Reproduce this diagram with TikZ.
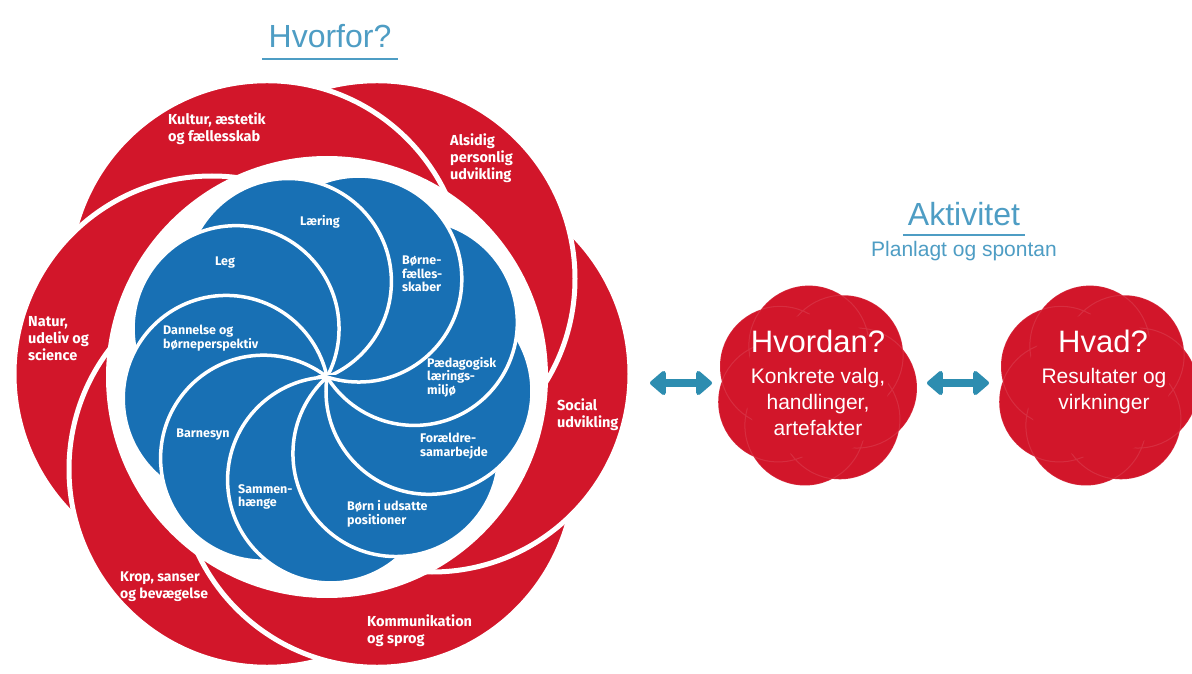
\documentclass[tikz,border=0pt]{standalone}
\usepackage{fontspec}
\setmainfont{Liberation Sans}
\newfontfamily\labfont{Fira Sans}
\usetikzlibrary{arrows.meta}
\definecolor{fred}{RGB}{210,22,42}
\definecolor{fblue}{RGB}{24,112,180}
\definecolor{ftext}{RGB}{78,157,196}
\definecolor{farrow}{RGB}{45,141,176}
\begin{document}
\begin{tikzpicture}[x=1pt,y=1pt,
 redpetal/.style={fill=fred, draw=white, line width=5pt},
 bluepetal/.style={fill=fblue, draw=white, line width=3.5pt},
 redlab/.style={text=white, font=\labfont\bfseries\fontsize{14.5}{17}\selectfont, align=left, anchor=west, inner sep=0pt},
 bluelab/.style={text=white, font=\labfont\bfseries\fontsize{12.5}{13.5}\selectfont, align=left, anchor=west, inner sep=0pt},
 head/.style={text=ftext, font=\fontsize{32}{38}\selectfont, anchor=base, inner sep=0pt},
 cloudtxt/.style={text=white, font=\fontsize{21}{26}\selectfont, align=center, inner sep=0pt},
 headline/.style={ftext, line width=1.8pt},
 dblarrow/.style={farrow, line width=8.5pt, {Triangle[width=28pt,length=17pt,round]}-{Triangle[width=28pt,length=17pt,round]}},
 faint/.style={white, opacity=0.1, line width=1pt}
]
\useasboundingbox (0,0) rectangle (1192,673);
\fill[white] (0,0) rectangle (1192,673);

\coordinate (R) at (322,299);
\coordinate (O) at (327,296);

% red petals (pinwheel)
\begin{scope}
\clip (R) ++(-340,-1) rectangle ++(680,341);
\foreach \a in {-60,0,60,120,180,240} \draw[redpetal] (R) ++(\a:110) circle (198);
\end{scope}
\begin{scope}
\clip (R) ++(-340,-340) rectangle ++(680,341);
\foreach \a in {120,180,240,300,360,420} \draw[redpetal] (R) ++(\a:110) circle (198);
\end{scope}

% white ring
\fill[white] (O) circle (221);

% blue petals (pinwheel)
\begin{scope}
\clip (O) ++(-230,-1) rectangle ++(460,231);
\foreach \a in {-88,-48,-8,32,72,112,152,192,232} \draw[bluepetal] (O) ++(\a:103) circle (103);
\end{scope}
\begin{scope}
\clip (O) ++(-230,-230) rectangle ++(460,231);
\foreach \a in {112,152,192,232,272,312,352,392,432} \draw[bluepetal] (O) ++(\a:103) circle (103);
\end{scope}

% red labels
\node[redlab] (kultur) at (168,544) {Kultur, æstetik\\og fællesskab};
\node[redlab] (alsidig) at (450,515) {Alsidig\\personlig\\udvikling};
\node[redlab] (social) at (557,258) {Social\\udvikling};
\node[redlab] (komm) at (367,42) {Kommunikation\\og sprog};
\node[redlab, font=\labfont\bfseries\fontsize{14}{17}\selectfont] (krop) at (120,86) {Krop, sanser\\og bevægelse};
\node[redlab] (natur) at (28,334) {Natur,\\udeliv og\\science};

% blue labels
\node[bluelab, anchor=center] (laering) at (320,451) {Læring};
\node[bluelab, anchor=center] (leg) at (225,410) {Leg};
\node[bluelab] (boernef) at (402,399) {Børne-\\fælles-\\skaber};
\node[bluelab] (dannelse) at (163,335) {Dannelse og\\børneperspektiv};
\node[bluelab] (paed) at (427,296) {Pædagogisk\\lærings-\\miljø};
\node[bluelab, anchor=center] (barnesyn) at (203,238) {Barnesyn};
\node[bluelab] (foraeldre) at (420,227) {Forældre-\\samarbejde};
\node[bluelab] (sammen) at (238,176) {Sammen-\\hænge};
\node[bluelab] (boern) at (347,159) {Børn i udsatte\\positioner};

% headings
\node[head] (hvorfor) at (330,625) {Hvorfor?};
\draw[headline] ([xshift=-6pt,yshift=-11pt]hvorfor.base west) -- ([xshift=6pt,yshift=-11pt]hvorfor.base east);
\node[head] (aktiv) at (964,447) {Aktivitet};
\draw[headline] ([xshift=-5pt,yshift=-9pt]aktiv.base west) -- ([xshift=5pt,yshift=-9pt]aktiv.base east);
\node[text=ftext, font=\fontsize{21}{25}\selectfont, anchor=base, inner sep=0pt] (plan) at (964,416) {Planlagt og spontan};

% clouds
\coordinate (C1) at (816,287);
\coordinate (C2) at (1097,287);
\foreach \c in {C1,C2} {
  \fill[fred] \foreach \k in {0,...,6} { (\c) ++(100+\k*51.43:41) circle (60) };
  \begin{scope}
    \clip \foreach \k in {0,...,6} { (\c) ++(100+\k*51.43:41) circle (60) };
    \draw[faint] \foreach \k in {0,...,6} { (\c) ++(100+\k*51.43:41) circle (60) };
  \end{scope}
  \fill[fred] (\c) circle (72);
}

\node[cloudtxt, font=\fontsize{31}{36}\selectfont, anchor=base] (hvordan) at (818,320) {Hvordan?};
\node[cloudtxt, anchor=north] (hvordansub) at (818,305) {Konkrete valg,\\handlinger,\\artefakter};
\node[cloudtxt, font=\fontsize{31}{36}\selectfont, anchor=base] (hvad) at (1103,320) {Hvad?};
\node[cloudtxt, anchor=north] (hvadsub) at (1104,305) {Resultater og\\virkninger};

% arrows
\coordinate (A1) at (650,290);
\coordinate (A2) at (712,290);
\coordinate (A3) at (927,290);
\coordinate (A4) at (989,290);
\draw[dblarrow] (A1) -- (A2);
\draw[dblarrow] (A3) -- (A4);
\end{tikzpicture}
\end{document}
